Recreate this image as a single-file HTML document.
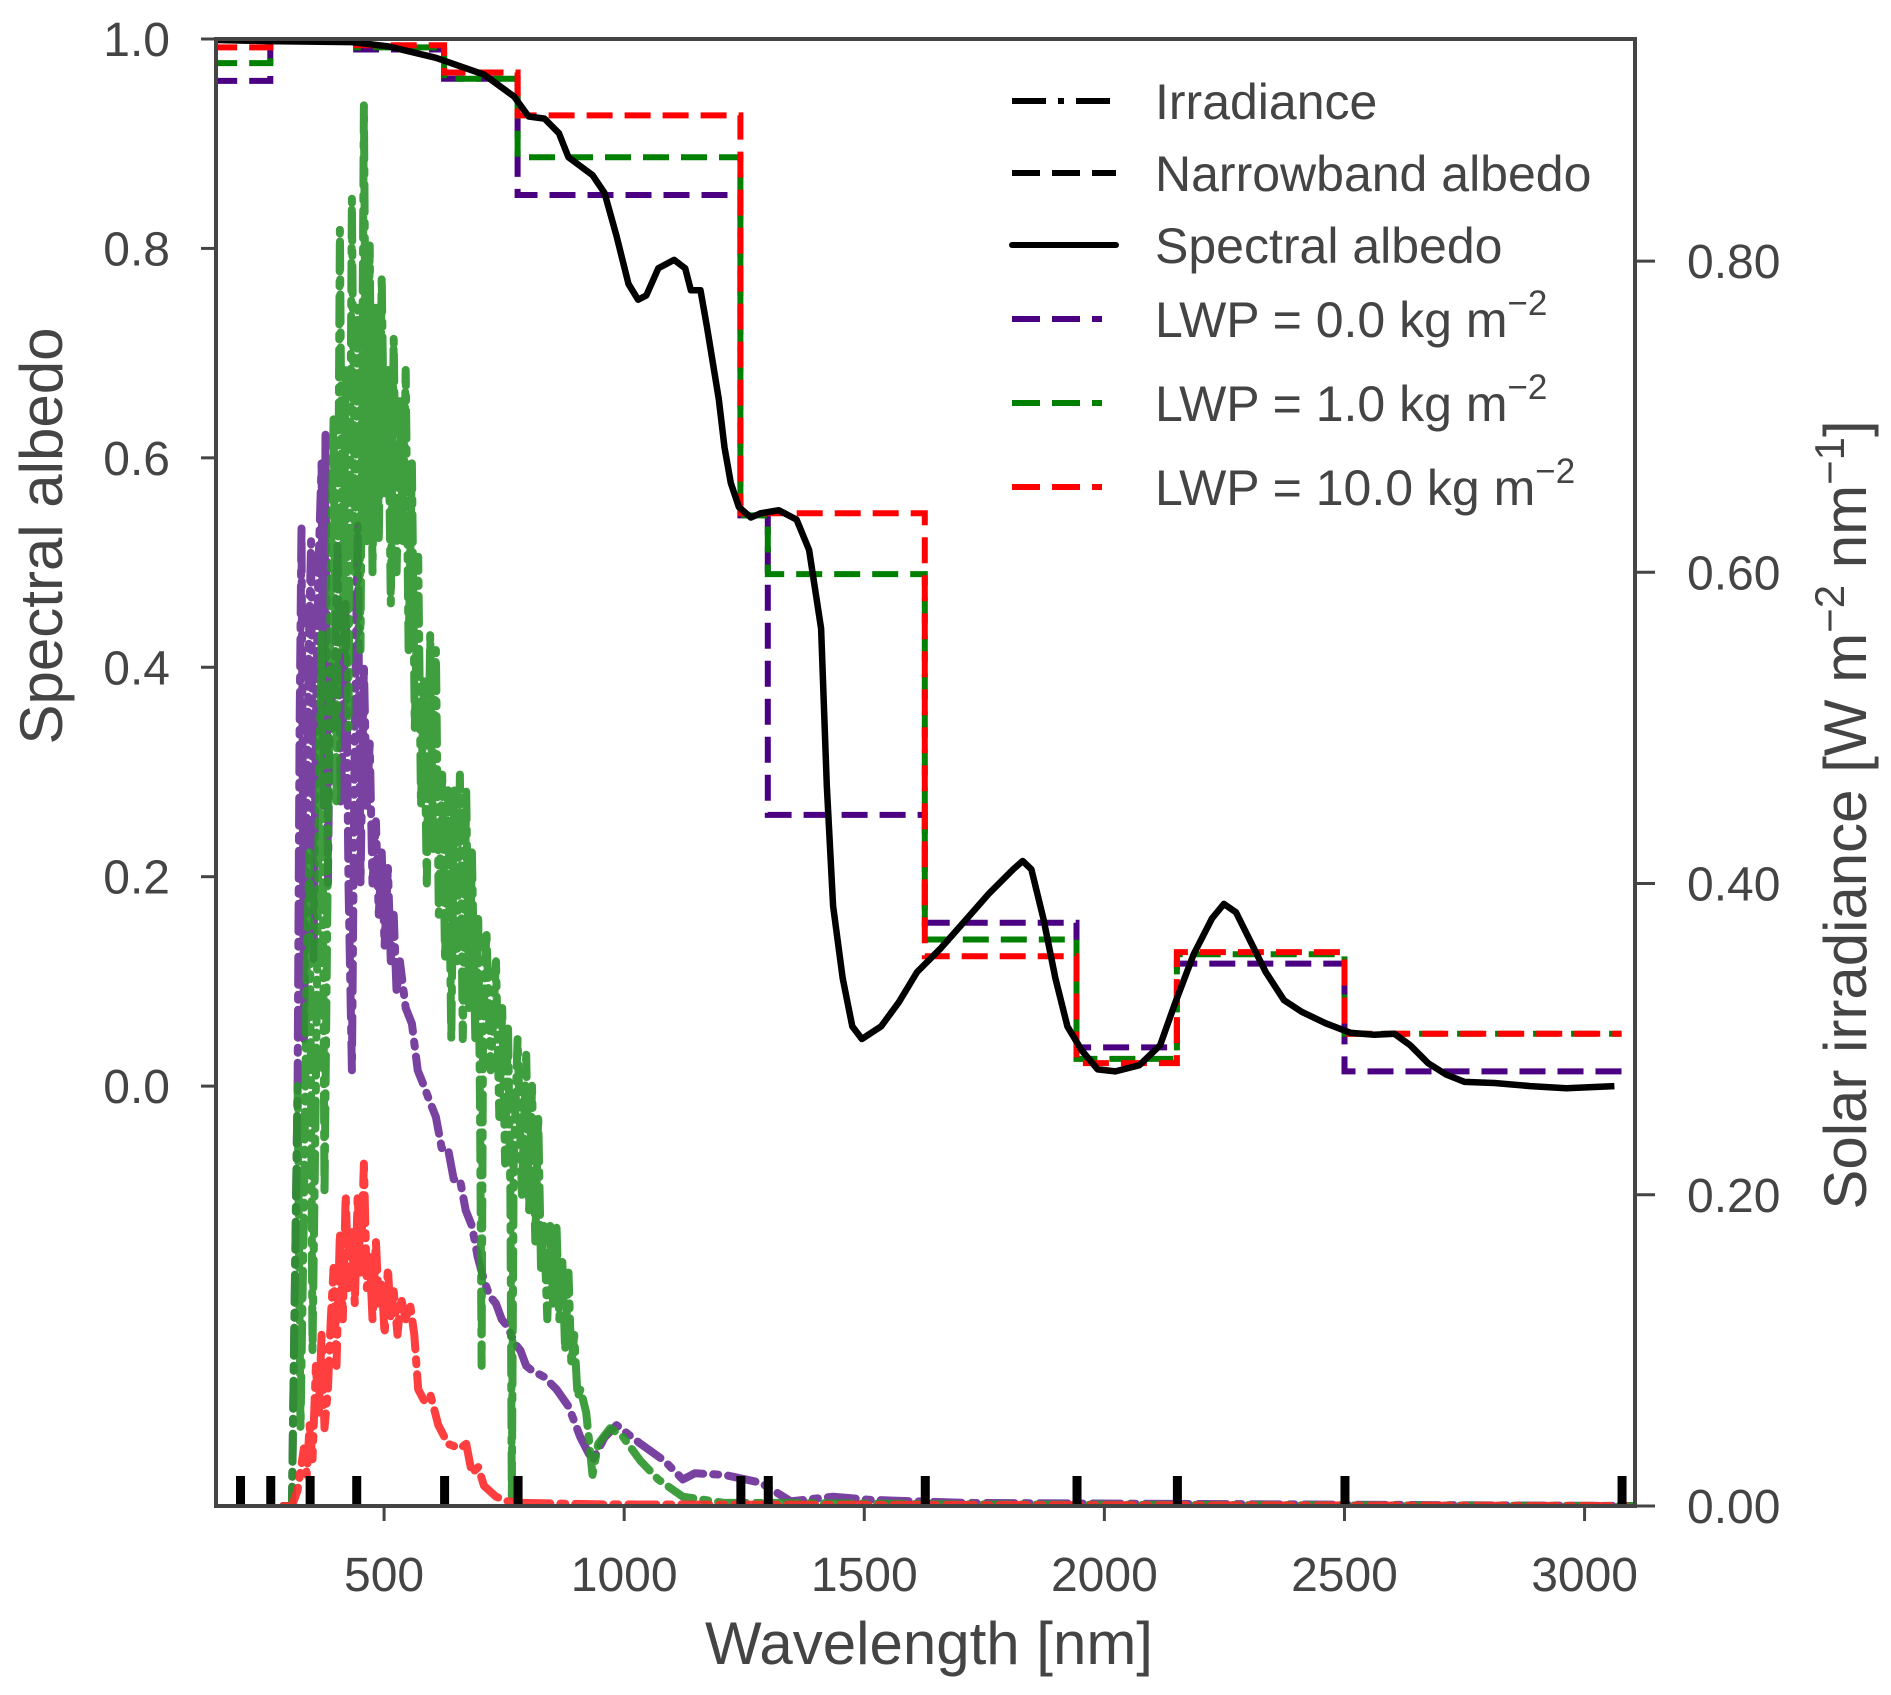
<!DOCTYPE html>
<html><head><meta charset="utf-8">
<style>
html,body{margin:0;padding:0;background:#fff;}
svg{display:block;font-family:"Liberation Sans",Arial,sans-serif;}
text{fill:#444;}
</style></head>
<body>
<svg id="chart" width="1891" height="1695" viewBox="0 0 1891 1695">
<defs><clipPath id="plotclip"><rect x="216" y="39" width="1419" height="1467"/></clipPath></defs>
<g id="plot" clip-path="url(#plotclip)"></g>
<g id="axes"></g>
<g id="legend"></g>
</svg>
<script>
// ---- data ----
const bandEdges = [200,263,345,442,625,778,1242,1299,1626,1942,2151,2500,3077];
const nbLwp0  = [0.960,0.998,0.998,0.990,0.962,0.851,0.545,0.259,0.156,0.037,0.117,0.014];
const nbLwp1  = [0.977,0.998,0.998,0.992,0.962,0.887,0.545,0.489,0.140,0.026,0.126,0.050];
const nbLwp10 = [0.992,0.998,0.998,0.994,0.968,0.927,0.547,0.547,0.124,0.022,0.128,0.050];
const specWl = [153,258,433,508,608,708,771,801,834,864,884,934,959,984,1009,1029,1046,1071,1104,1127,1139,1159,1172,1197,1209,1222,1239,1264,1284,1322,1359,1385,1410,1422,1435,1455,1475,1495,1535,1572,1610,1660,1710,1760,1810,1830,1848,1873,1898,1923,1953,1986,2023,2073,2116,2148,2186,2224,2249,2274,2299,2336,2374,2411,2461,2512,2562,2604,2637,2674,2712,2750,2812,2887,2962,3062];
const specAlb = [0.999,0.998,0.997,0.993,0.982,0.966,0.945,0.926,0.924,0.910,0.887,0.870,0.853,0.812,0.766,0.751,0.755,0.781,0.789,0.781,0.760,0.760,0.726,0.656,0.610,0.576,0.553,0.543,0.547,0.550,0.541,0.512,0.437,0.287,0.172,0.103,0.057,0.045,0.057,0.080,0.109,0.132,0.158,0.184,0.207,0.215,0.207,0.160,0.103,0.057,0.034,0.016,0.014,0.020,0.039,0.080,0.126,0.160,0.174,0.166,0.143,0.109,0.082,0.071,0.060,0.051,0.049,0.050,0.039,0.022,0.011,0.004,0.003,0.000,-0.002,0.000];
const irrWlP = [290,308,320,324,328,333,338,343,348,353,358,363,370,374,378,383,388,395,403,410,420,426,433,439,445,451,458,464,470,476,483,489,495,501,508,514,520,526,533,545,558,570,583,595,608,620,633,645,658,670,683,695,708,720,733,745,758,771,784,796,808,833,859,884,909,934,959,984,1034,1084,1122,1147,1209,1284,1347,1435,1510,1710,3100];
const irrP   = [0,0,0.27,0.50,0.63,0.30,0.42,0.55,0.62,0.35,0.50,0.60,0.67,0.45,0.69,0.40,0.54,0.50,0.62,0.45,0.58,0.40,0.28,0.50,0.63,0.40,0.54,0.45,0.49,0.40,0.44,0.38,0.42,0.36,0.41,0.35,0.38,0.33,0.35,0.32,0.31,0.28,0.27,0.26,0.25,0.23,0.23,0.21,0.21,0.19,0.18,0.16,0.145,0.135,0.13,0.12,0.115,0.105,0.10,0.09,0.087,0.083,0.075,0.064,0.044,0.029,0.044,0.052,0.040,0.029,0.017,0.021,0.020,0.015,0.003,0.006,0.004,0.002,0];
const irrWlG = [290,308,320,326,333,339,345,351,358,364,370,376,383,389,395,401,408,414,420,426,433,439,445,451,458,464,470,476,483,489,495,501,508,514,520,526,533,539,545,551,558,564,571,577,583,589,596,602,608,614,621,627,633,640,646,652,658,664,671,677,683,690,696,700,703,706,713,722,733,740,746,752,758,763,766,770,778,787,796,802,808,815,821,827,833,840,846,852,859,865,871,877,884,890,896,903,909,921,934,946,971,996,1034,1071,1122,1209,1334,1710,3100];
const irrG   = [0,0,0.27,0.05,0.19,0.35,0.42,0.10,0.27,0.45,0.56,0.20,0.42,0.60,0.70,0.45,0.82,0.55,0.73,0.50,0.84,0.60,0.77,0.55,0.90,0.62,0.81,0.60,0.77,0.62,0.79,0.65,0.73,0.58,0.75,0.60,0.71,0.62,0.73,0.55,0.67,0.50,0.61,0.45,0.53,0.40,0.56,0.42,0.55,0.38,0.47,0.35,0.46,0.30,0.46,0.35,0.47,0.30,0.46,0.32,0.42,0.30,0.38,0.25,0.09,0.30,0.37,0.28,0.35,0.25,0.32,0.22,0.31,0.20,0.005,0.22,0.30,0.20,0.29,0.19,0.27,0.17,0.25,0.15,0.18,0.12,0.18,0.13,0.18,0.12,0.16,0.10,0.15,0.09,0.11,0.07,0.075,0.06,0.02,0.04,0.05,0.045,0.029,0.017,0.006,0.002,0.002,0.001,0];
const irrWlR = [290,308,320,333,339,345,351,358,364,370,376,383,389,395,401,408,414,420,426,433,439,445,451,458,464,470,476,483,489,495,501,508,514,520,528,535,545,554,563,571,583,596,613,633,658,671,683,696,708,733,758,784,959,3100];
const irrR   = [0,0,0.01,0.037,0.02,0.052,0.03,0.09,0.06,0.11,0.05,0.075,0.12,0.153,0.09,0.176,0.12,0.20,0.14,0.176,0.13,0.20,0.15,0.22,0.14,0.16,0.12,0.17,0.13,0.145,0.11,0.153,0.12,0.138,0.11,0.134,0.12,0.13,0.11,0.075,0.068,0.072,0.052,0.04,0.037,0.04,0.021,0.025,0.013,0.006,0.003,0.002,0.001,0];
const xTicks = [500,1000,1500,2000,2500,3000];
const yLeftTicks = [0.0,0.2,0.4,0.6,0.8,1.0];
const yRightTicks = [0.00,0.20,0.40,0.60,0.80];

// ---- scales ----
const X0=216,X1=1635,Y0=39,Y1=1506;
const xMin=150,xMax=3105,aMin=-0.401,aMax=1.0,rMin=0,rMax=0.9427;
const xs=v=>X0+(v-xMin)/(xMax-xMin)*(X1-X0);
const ya=v=>Y1-(v-aMin)/(aMax-aMin)*(Y1-Y0);
const yr=v=>Y1-(v-rMin)/(rMax-rMin)*(Y1-Y0);
const NS='http://www.w3.org/2000/svg';
function mk(tag,attrs,parent){const e=document.createElementNS(NS,tag);for(const k in attrs)e.setAttribute(k,attrs[k]);parent.appendChild(e);return e;}
const plot=document.getElementById('plot'),axes=document.getElementById('axes'),legend=document.getElementById('legend');

const DD='28 10 5 10';
function irrLine(wl,vals,color,name){
  const d=wl.map((w,i)=>(i?'L':'M')+xs(w).toFixed(1)+','+yr(vals[i]).toFixed(1)).join(' ');
  const p=mk('path',{d:d,fill:'none',stroke:color,'stroke-width':8,'stroke-dasharray':DD,'stroke-linejoin':'round','stroke-linecap':'round',opacity:0.9},plot);
  
  
}
irrLine(irrWlP,irrP,'#6a2c96','irradiance-lwp0');
irrLine(irrWlG,irrG,'#2a952a','irradiance-lwp1');
irrLine(irrWlR,irrR,'#ff2a2a','irradiance-lwp10');

function nbLine(vals,color,name){
  let d='M'+xs(bandEdges[0]-60).toFixed(1)+','+ya(vals[0]).toFixed(1);
  for(let i=0;i<vals.length;i++){
    d+=' L'+xs(bandEdges[i]).toFixed(1)+','+ya(vals[i]).toFixed(1)+' L'+xs(bandEdges[i+1]).toFixed(1)+','+ya(vals[i]).toFixed(1);
  }
  const p=mk('path',{d:d,fill:'none',stroke:color,'stroke-width':6,'stroke-dasharray':'26 12'},plot);
  
  
}
nbLine(nbLwp0,'#4b0082','narrowband-lwp0');
nbLine(nbLwp1,'#008000','narrowband-lwp1');
nbLine(nbLwp10,'#ff0000','narrowband-lwp10');

{
  const d=specWl.map((w,i)=>(i?'L':'M')+xs(w).toFixed(1)+','+ya(specAlb[i]).toFixed(1)).join(' ');
  const p=mk('path',{d:d,fill:'none',stroke:'#000','stroke-width':6.5,'stroke-linejoin':'round'},plot);
  
  
}
bandEdges.forEach(w=>{
  const r=mk('rect',{x:xs(w)-4,y:Y1-30,width:9,height:30,fill:'#000'},plot);
  
  
});

mk('rect',{x:X0,y:Y0,width:X1-X0,height:Y1-Y0,fill:'none',stroke:'#444','stroke-width':4},axes);
xTicks.forEach(t=>{
  const x=xs(t);
  mk('line',{x1:x,y1:Y1,x2:x,y2:Y1+15,stroke:'#444','stroke-width':3},axes);
  const tx=mk('text',{x:x,y:Y1+85,'text-anchor':'middle','font-size':48},axes);
  tx.textContent=t;
  
  
});
yLeftTicks.forEach(t=>{
  const y=ya(t);
  mk('line',{x1:X0,y1:y,x2:X0-15,y2:y,stroke:'#444','stroke-width':3},axes);
  const tx=mk('text',{x:X0-46,y:y+17,'text-anchor':'end','font-size':48},axes);
  tx.textContent=t.toFixed(1);
  
  
});
yRightTicks.forEach(t=>{
  const y=yr(t);
  mk('line',{x1:X1,y1:y,x2:X1+20,y2:y,stroke:'#444','stroke-width':3},axes);
  const tx=mk('text',{x:X1+52,y:y+17,'font-size':48},axes);
  tx.textContent=t.toFixed(2);
  
  
});

const legLabels=['Irradiance','Narrowband albedo','Spectral albedo','LWP = 0.0 kg m','LWP = 1.0 kg m','LWP = 10.0 kg m'];
const legColors=['#000','#000','#000','#4b0082','#008000','#ff0000'];
const legDash=['34 12 6 12','28 12','','28 12 28 12 10 40','28 12 28 12 10 40','28 12 28 12 10 40'];
const legY=[101,173,245,319,403,487];
legLabels.forEach((lab,i)=>{
  const y=legY[i];
  const l=mk('line',{x1:1012,y1:y,x2:1116,y2:y,stroke:legColors[i],'stroke-width':6,'stroke-linecap':i==2?'round':'butt'},legend);
  if(legDash[i])l.setAttribute('stroke-dasharray',legDash[i]);
  
  
  const t=mk('text',{x:1155,y:y+18,'font-size':50},legend);
  t.textContent=lab;
  if(i>=3){const s=mk('tspan',{dy:-22,'font-size':35},t);s.textContent='\u22122';}
  
  
});

const svg=document.getElementById('chart');
function lbl(txt,attrs,name){const t=document.createElementNS(NS,'text');for(const k in attrs)t.setAttribute(k,attrs[k]);t.textContent=txt;


svg.appendChild(t);return t;}
lbl('Wavelength [nm]',{x:929,y:1664,'text-anchor':'middle','font-size':60},'x-axis-title');
lbl('Spectral albedo',{x:0,y:0,'text-anchor':'middle','font-size':60,transform:'translate(62,536) rotate(-90)'},'y-left-axis-title');
{
 const t=lbl('Solar irradiance [W m',{x:0,y:0,'text-anchor':'middle','font-size':60,transform:'translate(1866,815) rotate(-90)'},'y-right-axis-title');
 const a=document.createElementNS(NS,'tspan');a.setAttribute('dy',-22);a.setAttribute('font-size',42);a.textContent='\u22122';t.appendChild(a);
 const b=document.createElementNS(NS,'tspan');b.setAttribute('dy',22);b.textContent=' nm';t.appendChild(b);
 const c=document.createElementNS(NS,'tspan');c.setAttribute('dy',-22);c.setAttribute('font-size',42);c.textContent='\u22121';t.appendChild(c);
 const e=document.createElementNS(NS,'tspan');e.setAttribute('dy',22);e.textContent=']';t.appendChild(e);
}
</script>
</body></html>
